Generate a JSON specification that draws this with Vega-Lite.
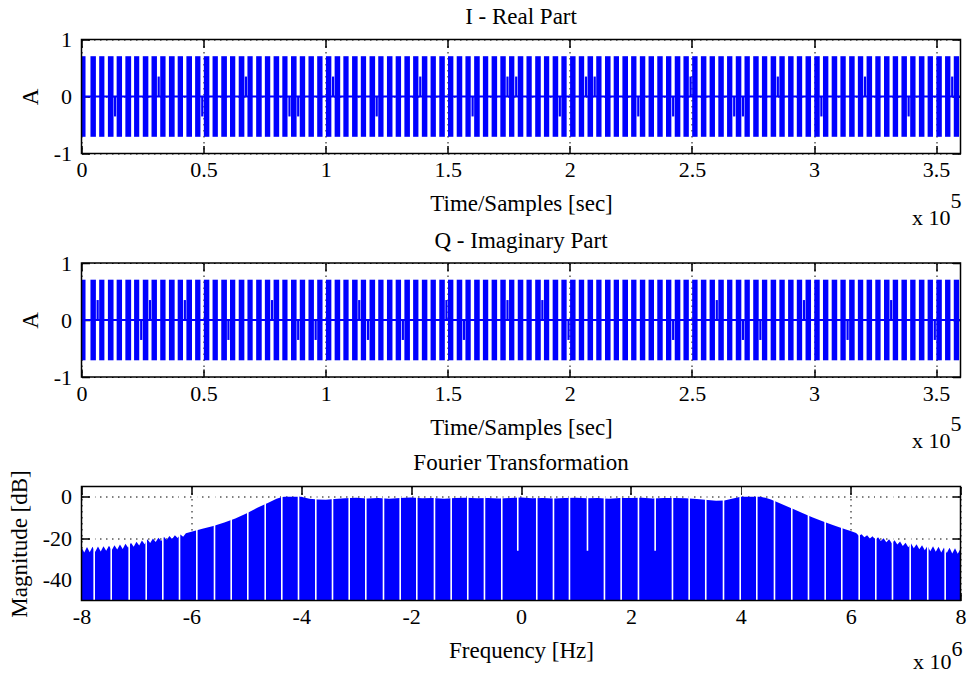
{
  "$schema": "https://vega.github.io/schema/vega-lite/v6.json",
  "background": "white",
  "padding": {"left": 7.5, "top": 5.5, "right": 2, "bottom": 2},
  "config": {
    "view": {"stroke": null},
    "font": "Liberation Serif",
    "title": {"font": "Liberation Serif", "fontSize": 23, "fontWeight": "normal", "color": "black"},
    "axis": {
      "labelFont": "Liberation Serif", "labelFontSize": 22, "labelColor": "black",
      "labelFlush": false, "labelOverlap": false,
      "titleFont": "Liberation Serif", "titleFontSize": 23, "titleFontWeight": "normal", "titleColor": "black",
      "domain": false,
      "ticks": true, "tickSize": -8, "tickColor": "black", "tickWidth": 1.5,
      "gridColor": "black", "gridOpacity": 1, "gridWidth": 1, "gridDash": [1.5, 4.5]
    },
    "axisX": {"labelPadding": 14, "titlePadding": 12},
    "axisY": {"labelPadding": 18, "titlePadding": 11}
  },
  "datasets": {
    "bursts": [
      {"t0":0,"t1":1650},{"t0":3670,"t1":5900},{"t0":7240,"t1":9380},{"t0":10810,"t1":13120},{"t0":14390,"t1":16600},{"t0":17960,"t1":20330},{"t0":21530,"t1":23650},{"t0":25100,"t1":27380},{"t0":28670,"t1":30900},{"t0":32240,"t1":34430},{"t0":35810,"t1":38150},{"t0":39390,"t1":41560},{"t0":42960,"t1":45250},{"t0":46530,"t1":48720},
      {"t0":50100,"t1":52360},{"t0":53670,"t1":55850},{"t0":57240,"t1":59560},{"t0":60810,"t1":62980},{"t0":64390,"t1":66700},{"t0":67960,"t1":70110},{"t0":71530,"t1":73810},{"t0":75100,"t1":77300},{"t0":78670,"t1":80960},{"t0":82240,"t1":84380},{"t0":85810,"t1":88090},{"t0":89390,"t1":91600},{"t0":92960,"t1":95190},{"t0":96530,"t1":98720},
      {"t0":100100,"t1":102330},{"t0":103670,"t1":105950},{"t0":107240,"t1":109400},{"t0":110810,"t1":113090},{"t0":114390,"t1":116560},{"t0":117960,"t1":120250},{"t0":121530,"t1":123700},{"t0":125100,"t1":127360},{"t0":128670,"t1":130880},{"t0":132240,"t1":134510},{"t0":135810,"t1":137990},{"t0":139390,"t1":141650},{"t0":142960,"t1":145140},{"t0":146530,"t1":148800},
      {"t0":150100,"t1":152300},{"t0":153670,"t1":155940},{"t0":157240,"t1":159410},{"t0":160810,"t1":163100},{"t0":164390,"t1":166580},{"t0":167960,"t1":170220},{"t0":171530,"t1":173760},{"t0":175100,"t1":177280},{"t0":178670,"t1":180940},{"t0":182240,"t1":184400},{"t0":185810,"t1":188100},{"t0":189390,"t1":191560},{"t0":192960,"t1":195240},{"t0":196530,"t1":198700},
      {"t0":200100,"t1":202350},{"t0":203670,"t1":205870},{"t0":207240,"t1":209520},{"t0":210810,"t1":212980},{"t0":214390,"t1":216680},{"t0":217960,"t1":220140},{"t0":221530,"t1":223820},{"t0":225100,"t1":227290},{"t0":228670,"t1":230900},{"t0":232240,"t1":234480},{"t0":235810,"t1":238040},{"t0":239390,"t1":241580},{"t0":242960,"t1":245260},{"t0":246530,"t1":248740},
      {"t0":250100,"t1":252320},{"t0":253670,"t1":255930},{"t0":257240,"t1":259440},{"t0":260810,"t1":263060},{"t0":264390,"t1":266570},{"t0":267960,"t1":270240},{"t0":271530,"t1":273720},{"t0":275100,"t1":277350},{"t0":278670,"t1":280860},{"t0":282240,"t1":284500},{"t0":285810,"t1":288020},{"t0":289390,"t1":291640},{"t0":292960,"t1":295150},{"t0":296530,"t1":298790},
      {"t0":300100,"t1":302340},{"t0":303670,"t1":305880},{"t0":307240,"t1":309510},{"t0":310810,"t1":313000},{"t0":314390,"t1":316650},{"t0":317960,"t1":320160},{"t0":321530,"t1":323790},{"t0":325100,"t1":327280},{"t0":328670,"t1":330930},{"t0":332240,"t1":334450},{"t0":335810,"t1":338060},{"t0":339390,"t1":341590},{"t0":342960,"t1":345230},{"t0":346530,"t1":348720},
      {"t0":350100,"t1":352350},{"t0":353670,"t1":355880},{"t0":357240,"t1":359420}
    ],
    "stepsI": [
      {"t0":13300,"t1":14200,"level":-0.35},{"t0":31157,"t1":32057,"level":0.35},{"t0":49014,"t1":49914,"level":-0.35},{"t0":66871,"t1":67771,"level":0.35},{"t0":84728,"t1":85628,"level":-0.35},{"t0":88300,"t1":89200,"level":-0.35},{"t0":102585,"t1":103485,"level":0.35},{"t0":120443,"t1":121343,"level":-0.35},{"t0":138300,"t1":139200,"level":0.35},{"t0":159728,"t1":160628,"level":-0.35},{"t0":174014,"t1":174914,"level":0.35},{"t0":177585,"t1":178485,"level":0.35},{"t0":195443,"t1":196343,"level":-0.35},{"t0":206157,"t1":207057,"level":0.35},{"t0":209728,"t1":210628,"level":0.35},{"t0":227585,"t1":228485,"level":-0.35},{"t0":241871,"t1":242771,"level":-0.35},{"t0":249014,"t1":249914,"level":0.35},{"t0":266871,"t1":267771,"level":-0.35},{"t0":270443,"t1":271343,"level":-0.35},{"t0":284728,"t1":285628,"level":0.35},{"t0":302585,"t1":303485,"level":-0.35},{"t0":320443,"t1":321343,"level":0.35},{"t0":338300,"t1":339200,"level":-0.35},{"t0":356157,"t1":357057,"level":0.35}
    ],
    "stepsQ": [
      {"t0":6157,"t1":7057,"level":0.35},{"t0":24014,"t1":24914,"level":-0.35},{"t0":27585,"t1":28485,"level":0.35},{"t0":41871,"t1":42771,"level":0.35},{"t0":59728,"t1":60628,"level":-0.35},{"t0":77585,"t1":78485,"level":0.35},{"t0":88300,"t1":89200,"level":-0.35},{"t0":95443,"t1":96343,"level":-0.35},{"t0":113300,"t1":114200,"level":0.35},{"t0":116871,"t1":117771,"level":-0.35},{"t0":131157,"t1":132057,"level":-0.35},{"t0":149014,"t1":149914,"level":0.35},{"t0":156157,"t1":157057,"level":-0.35},{"t0":174014,"t1":174914,"level":0.35},{"t0":188300,"t1":189200,"level":0.35},{"t0":199014,"t1":199914,"level":-0.35},{"t0":241871,"t1":242771,"level":-0.35},{"t0":259728,"t1":260628,"level":0.35},{"t0":270443,"t1":271343,"level":-0.35},{"t0":277585,"t1":278485,"level":-0.35},{"t0":295443,"t1":296343,"level":0.35},{"t0":313300,"t1":314200,"level":-0.35},{"t0":331157,"t1":332057,"level":0.35},{"t0":349014,"t1":349914,"level":-0.35}
    ],
    "spectrum": [
      {"f":-8000000,"db":-24.3},{"f":-7950000,"db":-26.8},{"f":-7900000,"db":-24.2},{"f":-7850000,"db":-26.7},{"f":-7800000,"db":-24.1},{"f":-7750000,"db":-26.5},{"f":-7700000,"db":-24.0},{"f":-7650000,"db":-26.3},{"f":-7600000,"db":-23.8},{"f":-7550000,"db":-26.0},{"f":-7500000,"db":-23.6},{"f":-7450000,"db":-25.8},{"f":-7400000,"db":-23.3},{"f":-7350000,"db":-25.4},{"f":-7300000,"db":-23.0},{"f":-7250000,"db":-25.1},{"f":-7200000,"db":-22.6},{"f":-7150000,"db":-24.6},{"f":-7100000,"db":-22.1},{"f":-7050000,"db":-24.1},{"f":-7000000,"db":-21.6},{"f":-6950000,"db":-23.5},{"f":-6900000,"db":-21.0},{"f":-6850000,"db":-22.9},{"f":-6800000,"db":-20.5},{"f":-6750000,"db":-22.3},{"f":-6700000,"db":-20.1},{"f":-6650000,"db":-21.8},{"f":-6600000,"db":-19.7},{"f":-6550000,"db":-21.3},{"f":-6500000,"db":-19.3},{"f":-6450000,"db":-20.8},{"f":-6400000,"db":-18.9},{"f":-6350000,"db":-20.3},{"f":-6300000,"db":-18.5},{"f":-6250000,"db":-19.8},{"f":-6200000,"db":-18.1},{"f":-6150000,"db":-19.2},{"f":-6100000,"db":-17.5},
      {"f":-6000000,"db":-16.8},{"f":-5800000,"db":-15.4},{"f":-5600000,"db":-14.0},{"f":-5400000,"db":-12.4},{"f":-5200000,"db":-10.4},{"f":-5000000,"db":-8.0},{"f":-4800000,"db":-5.3},{"f":-4600000,"db":-2.8},{"f":-4450000,"db":-0.9},{"f":-4350000,"db":-0.1},{"f":-4300000,"db":0},{"f":-4000000,"db":0},{"f":-3950000,"db":-0.3},{"f":-3850000,"db":-0.9},{"f":-3700000,"db":-1.3},{"f":-3550000,"db":-1.4},{"f":-3400000,"db":-1.0},
      {"f":-3200000,"db":-0.7},{"f":-3000000,"db":-0.4},{"f":-2800000,"db":-0.8},{"f":-2600000,"db":-0.5},{"f":-2400000,"db":-0.9},{"f":-2200000,"db":-0.6},{"f":-2000000,"db":-0.3},{"f":-1800000,"db":-0.7},{"f":-1600000,"db":-0.5},{"f":-1400000,"db":-0.9},{"f":-1200000,"db":-0.6},{"f":-1000000,"db":-0.4},{"f":-800000,"db":-0.7},{"f":-600000,"db":-0.5},{"f":-400000,"db":-0.8},{"f":-200000,"db":-0.6},{"f":0,"db":-0.3},{"f":200000,"db":-0.7},{"f":400000,"db":-0.5},{"f":600000,"db":-0.8},{"f":800000,"db":-0.6},{"f":1000000,"db":-0.4},{"f":1200000,"db":-0.7},{"f":1400000,"db":-0.5},{"f":1600000,"db":-0.9},{"f":1800000,"db":-0.6},{"f":2000000,"db":-0.5},{"f":2200000,"db":-0.4},{"f":2400000,"db":-0.8},{"f":2600000,"db":-0.6},{"f":2800000,"db":-0.5},{"f":3000000,"db":-0.7},{"f":3200000,"db":-1.0},{"f":3400000,"db":-1.5},{"f":3550000,"db":-1.9},{"f":3700000,"db":-1.8},{"f":3800000,"db":-1.2},{"f":3900000,"db":-0.5},{"f":4000000,"db":0},{"f":4350000,"db":0},{"f":4450000,"db":-0.4},{"f":4550000,"db":-1.3},{"f":4700000,"db":-3.0},{"f":4900000,"db":-5.2},{"f":5100000,"db":-7.6},{"f":5300000,"db":-9.8},{"f":5500000,"db":-11.9},{"f":5700000,"db":-13.8},{"f":5900000,"db":-15.6},{"f":6000000,"db":-16.5},
      {"f":6100000,"db":-17.4},{"f":6150000,"db":-18.8},{"f":6200000,"db":-18.0},{"f":6250000,"db":-19.5},{"f":6300000,"db":-18.5},{"f":6350000,"db":-20.1},{"f":6400000,"db":-19.0},{"f":6450000,"db":-20.7},{"f":6500000,"db":-19.5},{"f":6550000,"db":-21.3},{"f":6600000,"db":-20.0},{"f":6650000,"db":-21.9},{"f":6700000,"db":-20.4},{"f":6750000,"db":-22.4},{"f":6800000,"db":-20.9},{"f":6850000,"db":-23.0},{"f":6900000,"db":-21.5},{"f":6950000,"db":-23.7},{"f":7000000,"db":-22.1},{"f":7050000,"db":-24.3},{"f":7100000,"db":-22.5},{"f":7150000,"db":-24.8},{"f":7200000,"db":-22.9},{"f":7250000,"db":-25.3},{"f":7300000,"db":-23.3},{"f":7350000,"db":-25.8},{"f":7400000,"db":-23.6},{"f":7450000,"db":-26.2},{"f":7500000,"db":-23.8},{"f":7550000,"db":-26.5},{"f":7600000,"db":-24.1},{"f":7650000,"db":-26.8},{"f":7700000,"db":-24.4},{"f":7750000,"db":-27.1},{"f":7800000,"db":-24.6},{"f":7850000,"db":-27.3},{"f":7900000,"db":-24.8},{"f":7950000,"db":-27.5},{"f":8000000,"db":-25.0}
    ],
    "nulls": [
      {"f":-7769000,"depth":-50},{"f":-7459000,"depth":-50},{"f":-7132000,"depth":-50},{"f":-6822000,"depth":-50},{"f":-6520000,"depth":-50},{"f":-6216000,"depth":-50},{"f":-5901000,"depth":-50},{"f":-5579000,"depth":-50},{"f":-5275000,"depth":-50},{"f":-4973000,"depth":-50},{"f":-4656000,"depth":-50},{"f":-4354000,"depth":-50},{"f":-4050000,"depth":-50},{"f":-3735000,"depth":-50},{"f":-3431000,"depth":-50},{"f":-3127000,"depth":-50},{"f":-2825000,"depth":-50},{"f":-2503000,"depth":-50},{"f":-2199000,"depth":-50},{"f":-1897000,"depth":-50},{"f":-1575000,"depth":-50},{"f":-1271000,"depth":-50},{"f":-969000,"depth":-50},{"f":-665000,"depth":-50},{"f":-350000,"depth":-50},{"f":-59000,"depth":-26},
      {"f":287000,"depth":-50},{"f":591000,"depth":-50},{"f":882000,"depth":-50},{"f":1210000,"depth":-26},{"f":1519000,"depth":-50},{"f":1823000,"depth":-50},{"f":2138000,"depth":-50},{"f":2442000,"depth":-26},{"f":2757000,"depth":-50},{"f":3061000,"depth":-50},{"f":3363000,"depth":-50},{"f":3686000,"depth":-50},{"f":3990000,"depth":-50},{"f":4292000,"depth":-50},{"f":4614000,"depth":-50},{"f":4929000,"depth":-50},{"f":5233000,"depth":-50},{"f":5537000,"depth":-50},{"f":5839000,"depth":-50},{"f":6156000,"depth":-50},{"f":6458000,"depth":-50},{"f":6762000,"depth":-50},{"f":7084000,"depth":-50},{"f":7404000,"depth":-50},{"f":7721000,"depth":-50}
    ]
  },
  "bounds": "flush",
  "spacing": 109.5,
  "vconcat": [
    {
      "width": 879, "height": 114,
      "title": {"text": "I - Real Part", "offset": -0.5},
      "resolve": {"axis": {"x": "independent", "y": "independent"}},
      "layer": [
        {
          "data": {"name": "bursts"},
          "mark": {"type": "rect", "color": "#0000ff"},
          "encoding": {
            "x": {"field": "t0", "type": "quantitative", "scale": {"domain": [0, 360000], "nice": false, "zero": false},
                  "axis": {"orient": "bottom", "title": "Time/Samples [sec]", "values": [0, 50000, 100000, 150000, 200000, 250000, 300000, 350000], "labelExpr": "'' + datum.value / 100000", "grid": true}},
            "x2": {"field": "t1"},
            "y": {"datum": -0.707, "type": "quantitative", "scale": {"domain": [-1, 1], "nice": false, "zero": false},
                  "axis": {"orient": "left", "title": "A", "values": [-1, 0, 1], "labelExpr": "'' + datum.value", "grid": true}},
            "y2": {"datum": 0.707}
          }
        },
        {
          "data": {"name": "stepsI"},
          "mark": {"type": "rect", "color": "#0000ff"},
          "encoding": {
            "x": {"field": "t0", "type": "quantitative", "axis": null},
            "x2": {"field": "t1"},
            "y": {"field": "level", "type": "quantitative", "axis": null},
            "y2": {"datum": 0}
          }
        },
        {
          "data": {"values": [{}]},
          "mark": {"type": "rule", "color": "#0000ff", "strokeWidth": 2},
          "encoding": {"y": {"datum": 0, "type": "quantitative", "axis": null}}
        },
        {
          "data": {"values": [{}]},
          "mark": {"type": "rect", "fillOpacity": 0, "stroke": "black", "strokeWidth": 1.5},
          "encoding": {
            "x": {"datum": 0, "type": "quantitative", "axis": {"orient": "top", "values": [0, 50000, 100000, 150000, 200000, 250000, 300000, 350000], "labels": false, "labelPadding": 16, "title": null, "grid": false}},
            "x2": {"datum": 360000},
            "y": {"datum": -1, "type": "quantitative", "axis": {"orient": "right", "values": [-1, 0, 1], "labels": false, "title": null, "grid": false}},
            "y2": {"datum": 1}
          }
        },
        {
          "data": {"values": [{}]},
          "mark": {"type": "text", "text": "x 10", "align": "right", "baseline": "alphabetic", "dx": -10, "dy": 71, "font": "Liberation Serif", "fontSize": 22, "color": "black"},
          "encoding": {"x": {"datum": 360000, "type": "quantitative", "axis": null}, "y": {"datum": -1, "type": "quantitative", "axis": null}}
        },
        {
          "data": {"values": [{}]},
          "mark": {"type": "text", "text": "5", "align": "left", "baseline": "alphabetic", "dx": -10, "dy": 54, "font": "Liberation Serif", "fontSize": 22, "color": "black"},
          "encoding": {"x": {"datum": 360000, "type": "quantitative", "axis": null}, "y": {"datum": -1, "type": "quantitative", "axis": null}}
        }
      ]
    },
    {
      "width": 879, "height": 114,
      "title": {"text": "Q - Imaginary Part", "offset": -0.5},
      "resolve": {"axis": {"x": "independent", "y": "independent"}},
      "layer": [
        {
          "data": {"name": "bursts"},
          "mark": {"type": "rect", "color": "#0000ff"},
          "encoding": {
            "x": {"field": "t0", "type": "quantitative", "scale": {"domain": [0, 360000], "nice": false, "zero": false},
                  "axis": {"orient": "bottom", "title": "Time/Samples [sec]", "values": [0, 50000, 100000, 150000, 200000, 250000, 300000, 350000], "labelExpr": "'' + datum.value / 100000", "grid": true}},
            "x2": {"field": "t1"},
            "y": {"datum": -0.707, "type": "quantitative", "scale": {"domain": [-1, 1], "nice": false, "zero": false},
                  "axis": {"orient": "left", "title": "A", "values": [-1, 0, 1], "labelExpr": "'' + datum.value", "grid": true}},
            "y2": {"datum": 0.707}
          }
        },
        {
          "data": {"name": "stepsQ"},
          "mark": {"type": "rect", "color": "#0000ff"},
          "encoding": {
            "x": {"field": "t0", "type": "quantitative", "axis": null},
            "x2": {"field": "t1"},
            "y": {"field": "level", "type": "quantitative", "axis": null},
            "y2": {"datum": 0}
          }
        },
        {
          "data": {"values": [{}]},
          "mark": {"type": "rule", "color": "#0000ff", "strokeWidth": 2},
          "encoding": {"y": {"datum": 0, "type": "quantitative", "axis": null}}
        },
        {
          "data": {"values": [{}]},
          "mark": {"type": "rect", "fillOpacity": 0, "stroke": "black", "strokeWidth": 1.5},
          "encoding": {
            "x": {"datum": 0, "type": "quantitative", "axis": {"orient": "top", "values": [0, 50000, 100000, 150000, 200000, 250000, 300000, 350000], "labels": false, "labelPadding": 16, "title": null, "grid": false}},
            "x2": {"datum": 360000},
            "y": {"datum": -1, "type": "quantitative", "axis": {"orient": "right", "values": [-1, 0, 1], "labels": false, "title": null, "grid": false}},
            "y2": {"datum": 1}
          }
        },
        {
          "data": {"values": [{}]},
          "mark": {"type": "text", "text": "x 10", "align": "right", "baseline": "alphabetic", "dx": -10, "dy": 71, "font": "Liberation Serif", "fontSize": 22, "color": "black"},
          "encoding": {"x": {"datum": 360000, "type": "quantitative", "axis": null}, "y": {"datum": -1, "type": "quantitative", "axis": null}}
        },
        {
          "data": {"values": [{}]},
          "mark": {"type": "text", "text": "5", "align": "left", "baseline": "alphabetic", "dx": -10, "dy": 54, "font": "Liberation Serif", "fontSize": 22, "color": "black"},
          "encoding": {"x": {"datum": 360000, "type": "quantitative", "axis": null}, "y": {"datum": -1, "type": "quantitative", "axis": null}}
        }
      ]
    },
    {
      "width": 879, "height": 114,
      "title": {"text": "Fourier Transformation", "offset": -5},
      "resolve": {"axis": {"x": "independent", "y": "independent"}},
      "layer": [
        {
          "data": {"name": "spectrum"},
          "mark": {"type": "area", "color": "#0000ff", "interpolate": "linear"},
          "encoding": {
            "x": {"field": "f", "type": "quantitative", "scale": {"domain": [-8000000, 8000000], "nice": false, "zero": false},
                  "axis": {"orient": "bottom", "title": "Frequency [Hz]", "values": [-8000000, -6000000, -4000000, -2000000, 0, 2000000, 4000000, 6000000, 8000000], "labelExpr": "'' + datum.value / 1000000", "grid": true}},
            "y": {"field": "db", "type": "quantitative", "scale": {"domain": [-50, 5], "nice": false, "zero": false},
                  "axis": {"orient": "left", "title": "Magnitude [dB]", "values": [-40, -20, 0], "labelExpr": "'' + datum.value", "grid": true}},
            "y2": {"datum": -50}
          }
        },
        {
          "data": {"name": "nulls"},
          "mark": {"type": "rule", "color": "white", "strokeWidth": 1.6},
          "encoding": {
            "x": {"field": "f", "type": "quantitative", "axis": null},
            "y": {"field": "depth", "type": "quantitative", "axis": null},
            "y2": {"datum": 5}
          }
        },
        {
          "data": {"values": [{}]},
          "mark": {"type": "rect", "fillOpacity": 0, "stroke": "black", "strokeWidth": 1.5},
          "encoding": {
            "x": {"datum": -8000000, "type": "quantitative", "axis": {"orient": "top", "values": [-8000000, -6000000, -4000000, -2000000, 0, 2000000, 4000000, 6000000, 8000000], "labels": false, "labelPadding": 16, "title": null, "grid": false}},
            "x2": {"datum": 8000000},
            "y": {"datum": -50, "type": "quantitative", "axis": {"orient": "right", "values": [-40, -20, 0], "labels": false, "title": null, "grid": false}},
            "y2": {"datum": 5}
          }
        },
        {
          "data": {"values": [{}]},
          "mark": {"type": "text", "text": "x 10", "align": "right", "baseline": "alphabetic", "dx": -9, "dy": 68, "font": "Liberation Serif", "fontSize": 22, "color": "black"},
          "encoding": {"x": {"datum": 8000000, "type": "quantitative", "axis": null}, "y": {"datum": -50, "type": "quantitative", "axis": null}}
        },
        {
          "data": {"values": [{}]},
          "mark": {"type": "text", "text": "6", "align": "left", "baseline": "alphabetic", "dx": -9, "dy": 55, "font": "Liberation Serif", "fontSize": 22, "color": "black"},
          "encoding": {"x": {"datum": 8000000, "type": "quantitative", "axis": null}, "y": {"datum": -50, "type": "quantitative", "axis": null}}
        }
      ]
    }
  ]
}
